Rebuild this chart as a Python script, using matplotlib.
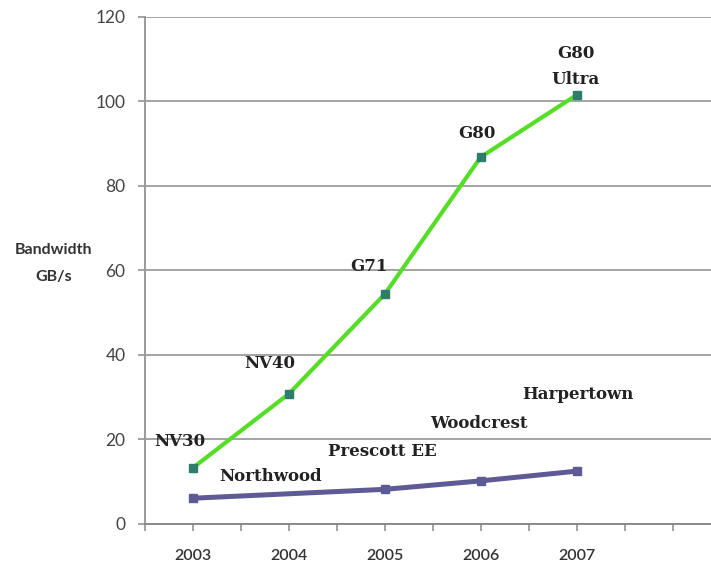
import matplotlib
matplotlib.use("Agg")
import matplotlib.pyplot as plt
import numpy as np

# Data
gpu_years = [2003, 2004, 2005, 2006, 2007]
gpu_bw = [13.3, 30.8, 54.4, 86.8, 101.5]
gpu_names = ["NV30", "NV40", "G71", "G80", "G80\nUltra"]

cpu_years = [2003, 2005, 2006, 2007]
cpu_bw = [6.1, 8.2, 10.2, 12.5]
cpu_names = ["Northwood", "Prescott EE", "Woodcrest", "Harpertown"]

year_labels = ["2003", "2004", "2005", "2006", "2007"]
y_ticks = [0, 20, 40, 60, 80, 100, 120]

W, H = 711, 568
fig = plt.figure(figsize=(W / 100, H / 100), dpi=100)
ax = fig.add_axes([145 / W, (H - 524) / H, (711 - 145) / W, (524 - 16.7) / H])

ax.set_xlim(2002.5, 2008.4)
ax.set_ylim(0, 120)

# gridlines
ax.set_yticks(y_ticks)
ax.yaxis.grid(True, color="#8a8a8a", linewidth=1.1)
ax.set_axisbelow(True)

for s in ["top", "right"]:
    ax.spines[s].set_visible(False)
ax.spines["left"].set_color("#9a9a9a")
ax.spines["left"].set_linewidth(1.4)
ax.spines["bottom"].set_color("#8a8a8a")
ax.spines["bottom"].set_linewidth(1.4)

ax.plot(gpu_years, gpu_bw, color="#55dd28", linewidth=3.0, marker="s",
        markersize=5.5, markerfacecolor="#2e7d6c", markeredgecolor="#2e7d6c",
        zorder=3)
ax.plot(cpu_years, cpu_bw, color="#5d5a96", linewidth=3.6, marker="s",
        markersize=6, markerfacecolor="#5d5a96", markeredgecolor="#5d5a96",
        zorder=3)

# ticks
ax.set_xticks(gpu_years)
ax.set_xticklabels(year_labels)
ax.set_xticks(np.arange(2002.5, 2008.4, 0.5), minor=True)
ax.tick_params(axis="x", which="both", direction="out", length=5, width=1.1,
               color="#8a8a8a", pad=13)
ax.tick_params(axis="y", direction="out", length=5, width=1.1,
               color="#8a8a8a", pad=9)
for lab in ax.get_xticklabels():
    lab.set_fontfamily("Lato")
    lab.set_fontsize(11.5)
    lab.set_fontweight("semibold")
    lab.set_color("#333333")
for lab in ax.get_yticklabels():
    lab.set_fontfamily("Lato")
    lab.set_fontsize(12.5)
    lab.set_color("#444444")

serif = dict(family="DejaVu Serif", fontsize=12, fontweight="bold",
             color="#222222", ha="center", va="center")

# label offsets in data units from the points
gpu_offsets = [(-0.14, 6.3), (-0.2, 7.2), (-0.17, 6.5), (-0.04, 5.6), (-0.01, 6.7)]
for x, y, name, (dx, dy) in zip(gpu_years, gpu_bw, gpu_names, gpu_offsets):
    ax.text(x + dx, y + dy, name, linespacing=1.75, **serif)

cpu_offsets = [(0.81, 5.1), (-0.03, 8.9), (-0.02, 13.6), (0.01, 18.2)]
for x, y, name, (dx, dy) in zip(cpu_years, cpu_bw, cpu_names, cpu_offsets):
    ax.text(x + dx, y + dy, name, **serif)

fig.text(54 / W, 1 - 250 / H, "Bandwidth", family="Lato", fontsize=11.5,
         fontweight="bold", color="#333333", ha="center", va="center")
fig.text(54 / W, 1 - 277 / H, "GB/s", family="Lato", fontsize=11.5,
         fontweight="bold", color="#333333", ha="center", va="center")

fig.savefig("out.png", dpi=100)
